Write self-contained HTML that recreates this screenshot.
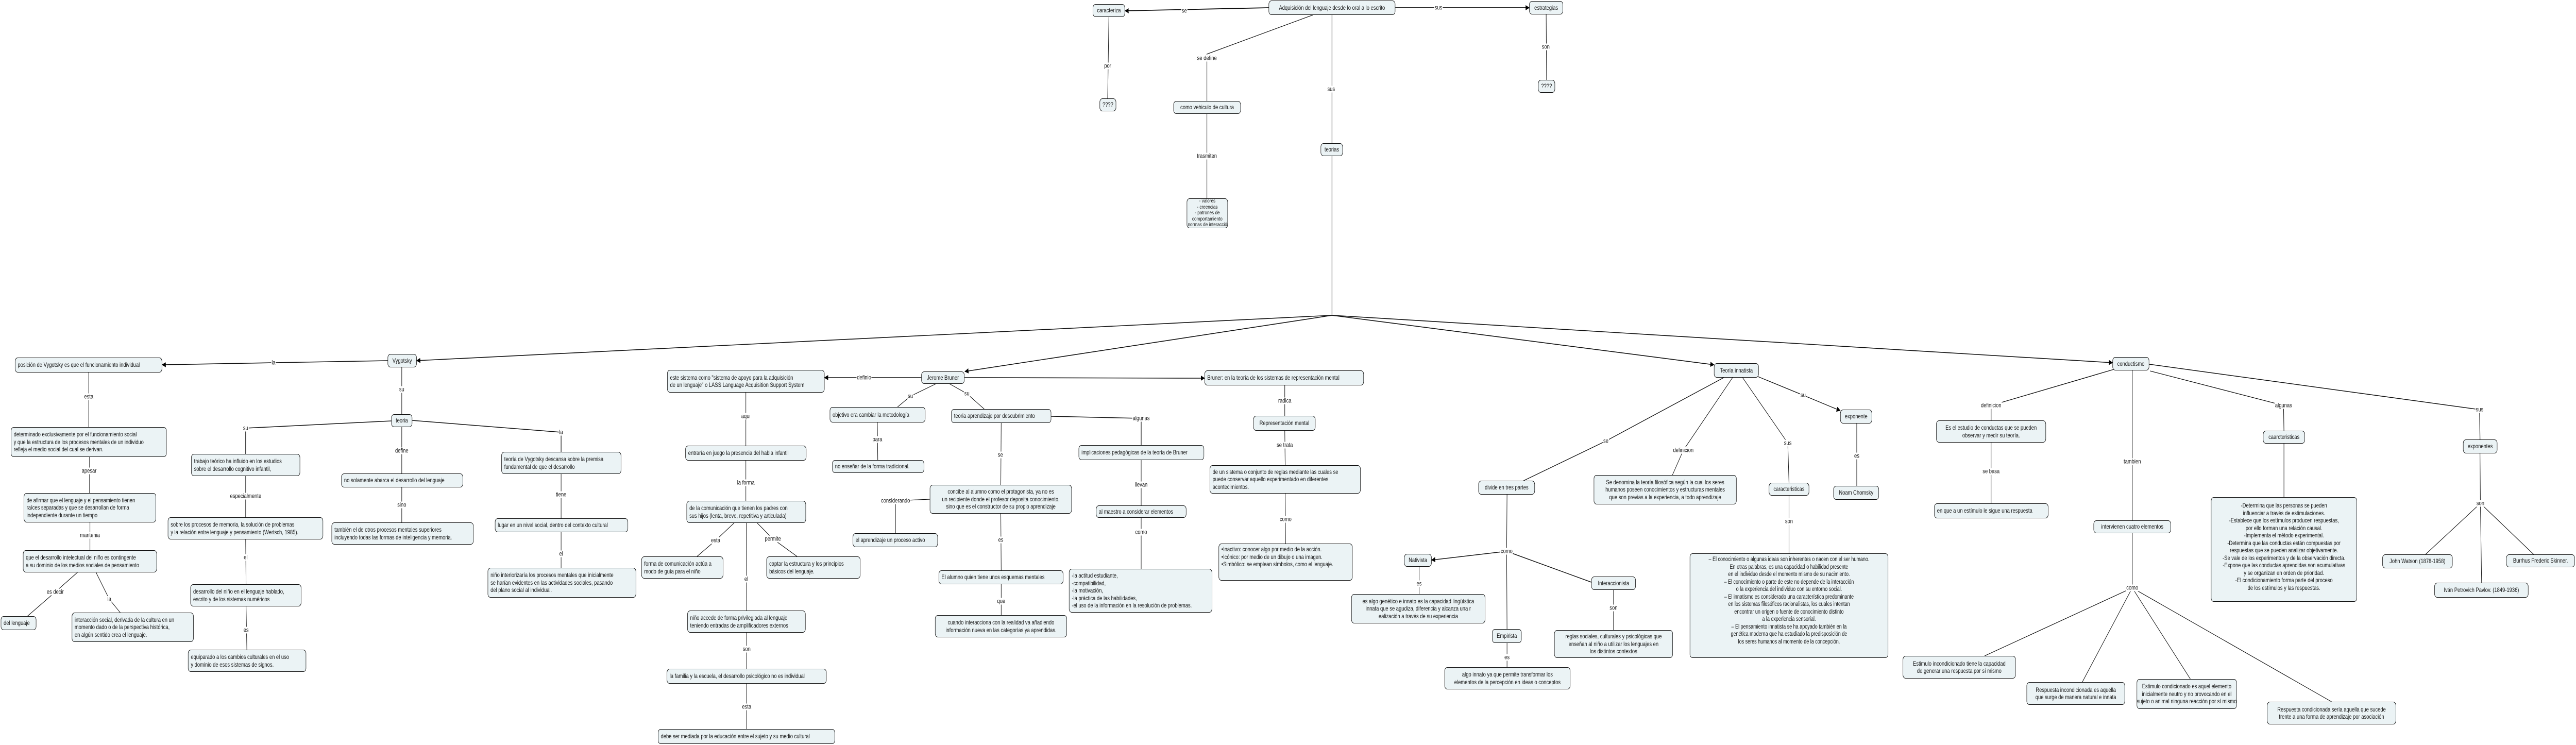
<!DOCTYPE html>
<html><head><meta charset="utf-8">
<style>
html,body{margin:0;padding:0;overflow:hidden;background:#fff}
#w{position:absolute;left:0;top:0;width:6386px;height:1446px;transform-origin:0 0;overflow:hidden;background:#fff}
svg{position:absolute;left:0;top:0}
.n{position:absolute;box-sizing:border-box;border:1.3px solid #111;border-radius:7px;background:#ebf3f5;font:12px/14.5px "Liberation Sans",sans-serif;display:flex;align-items:center;padding:0 6px;white-space:nowrap;overflow:hidden;color:#111}
.c{justify-content:center;text-align:center}
.l{position:absolute;transform:translate(-50%,-50%);background:#fff;font:12px/13px "Liberation Sans",sans-serif;padding:0 1px;white-space:nowrap;color:#111}
</style></head><body>
<div id="w">
<svg width="6386" height="1446" viewBox="0 0 6386 1446">
<defs><marker id="a" markerWidth="10" markerHeight="10" refX="9" refY="5" orient="auto" markerUnits="userSpaceOnUse"><path d="M0,0 L10,5 L0,10 z" fill="#000"/></marker></defs>
<g fill="none" stroke="#111" stroke-width="1.2">
<polyline points="3145,15 2789,21" stroke-width="1.8" marker-end="url(#a)"/>
<polyline points="3459,15 3791,15" stroke-width="1.8" marker-end="url(#a)"/>
<polyline points="2749,33 2746,191"/>
<polyline points="3833,28 3834,155"/>
<polyline points="3255,29 2992,105 2992,196"/>
<polyline points="3302,29 3302,278"/>
<polyline points="2992,221 2992,385"/>
<polyline points="3302,303 3302,612"/>
<polyline points="3302,612 1033,700" stroke-width="1.6" marker-end="url(#a)"/>
<polyline points="3302,612 2392,721" stroke-width="1.6" marker-end="url(#a)"/>
<polyline points="3302,612 4249,708" stroke-width="1.6" marker-end="url(#a)"/>
<polyline points="3302,612 5237,704" stroke-width="1.6" marker-end="url(#a)"/>
<polyline points="961,700 402,708" stroke-width="1.6" marker-end="url(#a)"/>
<polyline points="220,723 220,829"/>
<polyline points="222,887 222,957"/>
<polyline points="223,1014 223,1068"/>
<polyline points="192,1111 137,1149 68,1196"/>
<polyline points="238,1111 271,1163 298,1189"/>
<polyline points="996,713 996,804"/>
<polyline points="970,817 609,831 609,881" stroke-width="1.5"/>
<polyline points="609,924 609,1004"/>
<polyline points="609,1047 610,1134"/>
<polyline points="610,1177 612,1261"/>
<polyline points="996,829 996,919"/>
<polyline points="996,946 996,1014"/>
<polyline points="1022,816 1391,839 1391,877" stroke-width="1.5"/>
<polyline points="1391,920 1391,1006"/>
<polyline points="1391,1033 1391,1102"/>
<polyline points="2284,733 2044,733" stroke-width="1.6" marker-end="url(#a)"/>
<polyline points="2320,745 2257,769 2225,790"/>
<polyline points="2354,745 2397,764 2440,794"/>
<polyline points="2391,733 2986,734" stroke-width="1.6" marker-end="url(#a)"/>
<polyline points="1849,762 1849,865"/>
<polyline points="1849,894 1849,972"/>
<polyline points="1820,1015 1774,1049 1728,1080"/>
<polyline points="1877,1015 1916,1046 1976,1080"/>
<polyline points="1850,1015 1851,1185"/>
<polyline points="1851,1228 1851,1298"/>
<polyline points="1851,1327 1851,1415"/>
<polyline points="2175,820 2176,893"/>
<polyline points="2482,821 2481,941"/>
<polyline points="2606,808 2829,812 2829,864" stroke-width="1.5"/>
<polyline points="2829,893 2829,981"/>
<polyline points="2829,1005 2829,1104"/>
<polyline points="2305,969 2220,972 2220,1035"/>
<polyline points="2481,997 2482,1107"/>
<polyline points="2482,1134 2482,1194"/>
<polyline points="3185,748 3185,807"/>
<polyline points="3185,836 3186,903"/>
<polyline points="3186,958 3187,1055"/>
<polyline points="4273,733 3981,856 3777,933" stroke-width="1.4"/>
<polyline points="4295,733 4173,874 4146,922"/>
<polyline points="4320,733 4432,860 4435,937"/>
<polyline points="4355,730 4470,767 4562,797" stroke-width="1.4" marker-end="url(#a)"/>
<polyline points="4603,822 4603,943"/>
<polyline points="4435,962 4435,1074"/>
<polyline points="3736,960 3735,1070 3736,1221"/>
<polyline points="3735,1070 3549,1087" stroke-width="1.5" marker-end="url(#a)"/>
<polyline points="3735,1070 3945,1130" stroke-width="1.5"/>
<polyline points="3518,1100 3518,1153"/>
<polyline points="3736,1248 3736,1295"/>
<polyline points="4000,1145 4000,1223"/>
<polyline points="5240,717 4936,787 4936,816" stroke-width="1.4"/>
<polyline points="4936,859 4936,977"/>
<polyline points="5286,719 5286,1010"/>
<polyline points="5330,720 5661,787 5662,836" stroke-width="1.3"/>
<polyline points="5328,707 6147,795 6148,853" stroke-width="1.5"/>
<polyline points="5662,861 5662,965"/>
<polyline points="6148,880 6149,977 6013,1076"/>
<polyline points="6149,977 6152,1131"/>
<polyline points="6149,977 6281,1076"/>
<polyline points="5286,1035 5286,1141 4920,1273"/>
<polyline points="5286,1141 5162,1324"/>
<polyline points="5286,1141 5430,1318"/>
<polyline points="5286,1141 5780,1362"/>
</g>
</svg>

<div class="n c" style="left:3145px;top:1px;width:314px;height:28px">Adquisición del lenguaje desde lo oral a lo escrito</div>
<div class="n c" style="left:2709px;top:8px;width:80px;height:25px">caracteriza</div>
<div class="n c" style="left:2726px;top:191px;width:41px;height:25px">????</div>
<div class="n c" style="left:2909px;top:196px;width:167px;height:25px">como vehiculo de cultura</div>
<div class="n c" style="left:3274px;top:278px;width:55px;height:25px">teorias</div>
<div class="n c" style="left:3791px;top:2px;width:84px;height:26px">estrategias</div>
<div class="n c" style="left:3813px;top:155px;width:42px;height:25px">????</div>
<div class="n c" style="left:2942px;top:385px;width:102px;height:58px;font-size:10.5px;line-height:11.5px">- valores<br>- creencias<br>- patrones de<br>comportamiento<br>- normas de interacción</div>

<div class="n c" style="left:961px;top:687px;width:72px;height:26px">Vygotsky</div>
<div class="n" style="left:37px;top:694px;width:365px;height:29px">posición de Vygotsky es que el funcionamiento individual</div>
<div class="n" style="left:27px;top:829px;width:386px;height:58px">determinado exclusivamente por el funcionamiento social<br>y que la estructura de los procesos mentales de un individuo<br>refleja el medio social del cual se derivan.</div>
<div class="n" style="left:59px;top:957px;width:328px;height:57px">de afirmar que el lenguaje y el pensamiento tienen<br>raíces separadas y que se desarrollan de forma<br>independiente durante un tiempo</div>
<div class="n" style="left:57px;top:1068px;width:332px;height:43px">que el desarrollo intelectual del niño es contingente<br>a su dominio de los medios sociales de pensamiento</div>
<div class="n" style="left:2px;top:1196px;width:88px;height:27px">del lenguaje</div>
<div class="n" style="left:178px;top:1189px;width:302px;height:57px">interacción social, derivada de la cultura en un<br>momento dado o de la perspectiva histórica,<br>en algún sentido crea el lenguaje.</div>
<div class="n c" style="left:970px;top:804px;width:52px;height:25px">teoria</div>
<div class="n" style="left:474px;top:881px;width:270px;height:43px">trabajo teórico ha influido en los estudios<br>sobre el desarrollo cognitivo infantil,</div>
<div class="n" style="left:416px;top:1004px;width:385px;height:43px">sobre los procesos de memoria, la solución de problemas<br>y la relación entre lenguaje y pensamiento (Wertsch, 1985).</div>
<div class="n" style="left:472px;top:1134px;width:275px;height:43px">desarrollo del niño en el lenguaje hablado,<br>escrito y de los sistemas numéricos</div>
<div class="n" style="left:466px;top:1261px;width:293px;height:43px">equiparado a los cambios culturales en el uso<br>y dominio de esos sistemas de signos.</div>
<div class="n" style="left:846px;top:919px;width:302px;height:27px">no solamente abarca el desarrollo del lenguaje</div>
<div class="n" style="left:822px;top:1014px;width:352px;height:43px">también el de otros procesos mentales superiores<br>incluyendo todas las formas de inteligencia y memoria.</div>
<div class="n" style="left:1243px;top:877px;width:297px;height:43px">teoría de Vygotsky descansa sobre la premisa<br>fundamental de que el desarrollo</div>
<div class="n" style="left:1227px;top:1006px;width:330px;height:27px">lugar en un nivel social, dentro del contexto cultural</div>
<div class="n" style="left:1209px;top:1102px;width:368px;height:58px">niño interiorizaría los procesos mentales que inicialmente<br>se harían evidentes en las actividades sociales, pasando<br>del plano social al individual.</div>

<div class="n c" style="left:2284px;top:721px;width:107px;height:24px">Jerome Bruner</div>
<div class="n" style="left:1654px;top:718px;width:390px;height:44px">este sistema como "sistema de apoyo para la adquisición<br>de un lenguaje" o LASS Language Acquisition Support System</div>
<div class="n" style="left:1699px;top:865px;width:300px;height:29px">entraría en juego la presencia del habla infantil</div>
<div class="n" style="left:1702px;top:972px;width:296px;height:43px">de la comunicación que tienen los padres con<br>sus hijos (lenta, breve, repetitiva y articulada)</div>
<div class="n" style="left:1590px;top:1080px;width:203px;height:43px">forma de comunicación actúa a<br>modo de guía para el niño</div>
<div class="n" style="left:1900px;top:1080px;width:233px;height:43px">captar la estructura y los principios<br>básicos del lenguaje.</div>
<div class="n" style="left:1704px;top:1185px;width:293px;height:43px">niño accede de forma privilegiada al lenguaje<br>teniendo entradas de amplificadores externos</div>
<div class="n" style="left:1653px;top:1298px;width:396px;height:29px">la familia y la escuela, el desarrollo psicológico no es individual</div>
<div class="n" style="left:1631px;top:1415px;width:439px;height:29px">debe ser mediada por la educación entre el sujeto y su medio cultural</div>
<div class="n" style="left:2057px;top:790px;width:237px;height:30px">objetivo era cambiar la metodología</div>
<div class="n" style="left:2063px;top:893px;width:228px;height:25px">no enseñar de la forma tradicional.</div>
<div class="n" style="left:2358px;top:794px;width:248px;height:27px">teoria aprendizaje por descubrimiento</div>
<div class="n c" style="left:2305px;top:941px;width:352px;height:56px">concibe al alumno como el protagonista, ya no es<br>un recipiente donde el profesor deposita conocimiento,<br>sino que es el constructor de su propio aprendizaje</div>
<div class="n" style="left:2114px;top:1035px;width:211px;height:27px">el aprendizaje un proceso activo</div>
<div class="n" style="left:2327px;top:1107px;width:309px;height:27px">El alumno quien tiene unos esquemas mentales</div>
<div class="n c" style="left:2318px;top:1194px;width:327px;height:43px">cuando interacciona con la realidad va añadiendo<br>información nueva en las categorías ya aprendidas.</div>
<div class="n" style="left:2674px;top:864px;width:311px;height:29px">implicaciones pedagógicas de la teoría de Bruner</div>
<div class="n" style="left:2717px;top:981px;width:224px;height:24px">al maestro a considerar elementos</div>
<div class="n" style="left:2650px;top:1104px;width:355px;height:85px">-la actitud estudiante,<br>-compatibilidad,<br>-la motivación,<br>-la práctica de las habilidades,<br>-el uso de la información en la resolución de problemas.</div>
<div class="n" style="left:2986px;top:719px;width:395px;height:29px">Bruner: en la teoría de los sistemas de representación mental</div>
<div class="n c" style="left:3107px;top:807px;width:154px;height:29px">Representación mental</div>
<div class="n" style="left:2999px;top:903px;width:374px;height:55px">de un sistema o conjunto de reglas mediante las cuales se<br>puede conservar aquello experimentado en diferentes<br>acontecimientos.</div>
<div class="n" style="left:3021px;top:1055px;width:332px;height:72px;align-items:flex-start;padding-top:3px">•Inactivo: conocer algo por medio de la acción.<br>•Icónico: por medio de un dibujo o una imagen.<br>•Simbólico: se emplean símbolos, como el lenguaje.</div>

<div class="n c" style="left:3665px;top:933px;width:140px;height:27px">divide en tres partes</div>
<div class="n c" style="left:3481px;top:1075px;width:68px;height:25px">Nativista</div>
<div class="n c" style="left:3350px;top:1153px;width:332px;height:57px">es algo genético e innato es la capacidad lingüística<br>innata que se agudiza, diferencia y alcanza una r<br>ealización a través de su experiencia</div>
<div class="n c" style="left:3699px;top:1221px;width:73px;height:27px">Empirista</div>
<div class="n c" style="left:3581px;top:1295px;width:312px;height:43px">algo innato ya que permite transformar los<br>elementos de la percepción en ideas o conceptos</div>
<div class="n c" style="left:3945px;top:1119px;width:110px;height:26px">Interaccionista</div>
<div class="n c" style="left:3853px;top:1223px;width:294px;height:54px">reglas sociales, culturales y psicológicas que<br>enseñan al niño a utilizar los lenguajes en<br>los distintos contextos</div>
<div class="n c" style="left:4249px;top:705px;width:111px;height:28px">Teoría innatista</div>
<div class="n c" style="left:3951px;top:922px;width:354px;height:57px">Se denomina la teoría filosófica según la cual los seres<br>humanos poseen conocimientos y estructuras mentales<br>que son previas a la experiencia, a todo aprendizaje</div>
<div class="n c" style="left:4385px;top:937px;width:100px;height:25px">caracteristicas</div>
<div class="n c" style="left:4562px;top:795px;width:79px;height:27px">exponente</div>
<div class="n c" style="left:4545px;top:943px;width:113px;height:27px">Noam Chomsky</div>
<div class="n c" style="left:4189px;top:1074px;width:492px;height:203px;font-size:11.5px;line-height:14.5px;align-items:flex-start;padding-top:4px">– El conocimiento o algunas ideas son inherentes o nacen con el ser humano.<br>En otras palabras, es una capacidad o habilidad presente<br>en el individuo desde el momento mismo de su nacimiento.<br>– El conocimiento o parte de este no depende de la interacción<br>o la experiencia del individuo con su entorno social.<br>– El innatismo es considerado una característica predominante<br>en los sistemas filosóficos racionalistas, los cuales intentan<br>encontrar un origen o fuente de conocimiento distinto<br>a la experiencia sensorial.<br>– El pensamiento innatista se ha apoyado también en la<br>genética moderna que ha estudiado la predisposición de<br>los seres humanos al momento de la concepción.</div>

<div class="n c" style="left:5237px;top:693px;width:91px;height:26px">conductismo</div>
<div class="n c" style="left:4800px;top:816px;width:272px;height:43px">Es el estudio de conductas que se pueden<br>observar y medir su teoría.</div>
<div class="n" style="left:4795px;top:977px;width:283px;height:29px">en que a un estímulo le sigue una respuesta</div>
<div class="n c" style="left:5190px;top:1010px;width:192px;height:25px">intervienen cuatro elementos</div>
<div class="n c" style="left:5610px;top:836px;width:104px;height:25px">caarcteristicas</div>
<div class="n c" style="left:5481px;top:965px;width:362px;height:203px;align-items:flex-start;padding-top:8px">-Determina que las personas se pueden<br>influenciar a través de estimulaciones.<br>-Establece que los estímulos producen respuestas,<br>por ello forman una relación causal.<br>-Implementa el método experimental.<br>-Determina que las conductas están compuestas por<br>respuestas que se pueden analizar objetivamente.<br>-Se vale de los experimentos y de la observación directa.<br>-Expone que las conductas aprendidas son acumulativas<br>y se organizan en orden de prioridad.<br>-El condicionamiento forma parte del proceso<br>de los estímulos y las respuestas.</div>
<div class="n c" style="left:6106px;top:853px;width:85px;height:27px">exponentes</div>
<div class="n c" style="left:5906px;top:1076px;width:174px;height:27px">John Watson (1878-1958)</div>
<div class="n c" style="left:6213px;top:1076px;width:170px;height:25px">Burrhus Frederic Skinner.</div>
<div class="n c" style="left:6035px;top:1131px;width:233px;height:29px">Iván Petrovich Pavlov. (1849-1936)</div>
<div class="n c" style="left:4717px;top:1273px;width:280px;height:44px">Estimulo incondicionado tiene la capacidad<br>de generar una respuesta por sí mismo</div>
<div class="n c" style="left:5024px;top:1324px;width:244px;height:44px">Respuesta incondicionada es aquella<br>que surge de manera natural e innata</div>
<div class="n c" style="left:5297px;top:1318px;width:248px;height:58px">Estimulo condicionado es aquel elemento<br>inicialmente neutro y no provocando en el<br>sujeto o animal ninguna reacción por sí mismo</div>
<div class="n c" style="left:5620px;top:1362px;width:320px;height:44px">Respuesta condicionada sería aquella que sucede<br>frente a una forma de aprendizaje por asociación</div>

<span class="l" style="left:2936px;top:21px">se</span>
<span class="l" style="left:3566px;top:15px">sus</span>
<span class="l" style="left:2992px;top:113px">se define</span>
<span class="l" style="left:2746px;top:128px">por</span>
<span class="l" style="left:3300px;top:173px">sus</span>
<span class="l" style="left:3832px;top:91px">son</span>
<span class="l" style="left:2992px;top:303px">trasmiten</span>
<span class="l" style="left:678px;top:704px">la</span>
<span class="l" style="left:220px;top:770px">esta</span>
<span class="l" style="left:221px;top:914px">apesar</span>
<span class="l" style="left:223px;top:1039px">mantenia</span>
<span class="l" style="left:137px;top:1149px">es decir</span>
<span class="l" style="left:271px;top:1163px">la</span>
<span class="l" style="left:996px;top:756px">su</span>
<span class="l" style="left:609px;top:831px">su</span>
<span class="l" style="left:609px;top:963px">especialmente</span>
<span class="l" style="left:609px;top:1082px">el</span>
<span class="l" style="left:610px;top:1223px">es</span>
<span class="l" style="left:996px;top:875px">define</span>
<span class="l" style="left:996px;top:980px">sino</span>
<span class="l" style="left:1391px;top:839px">la</span>
<span class="l" style="left:1391px;top:960px">tiene</span>
<span class="l" style="left:1391px;top:1075px">el</span>
<span class="l" style="left:2142px;top:733px">definio</span>
<span class="l" style="left:2257px;top:769px">su</span>
<span class="l" style="left:2397px;top:764px">su</span>
<span class="l" style="left:1849px;top:808px">aqui</span>
<span class="l" style="left:1849px;top:937px">la forma</span>
<span class="l" style="left:1774px;top:1049px">esta</span>
<span class="l" style="left:1916px;top:1046px">permite</span>
<span class="l" style="left:1850px;top:1124px">el</span>
<span class="l" style="left:1851px;top:1260px">son</span>
<span class="l" style="left:1851px;top:1372px">esta</span>
<span class="l" style="left:2175px;top:853px">para</span>
<span class="l" style="left:2480px;top:883px">se</span>
<span class="l" style="left:2829px;top:812px">algunas</span>
<span class="l" style="left:2829px;top:941px">llevan</span>
<span class="l" style="left:2829px;top:1033px">como</span>
<span class="l" style="left:2220px;top:972px">considerando</span>
<span class="l" style="left:2481px;top:1048px">es</span>
<span class="l" style="left:2482px;top:1167px">que</span>
<span class="l" style="left:3185px;top:778px">radica</span>
<span class="l" style="left:3185px;top:864px">se trata</span>
<span class="l" style="left:3187px;top:1008px">como</span>
<span class="l" style="left:3981px;top:856px">se</span>
<span class="l" style="left:4173px;top:874px">definicion</span>
<span class="l" style="left:4432px;top:860px">sus</span>
<span class="l" style="left:4470px;top:767px">su</span>
<span class="l" style="left:4603px;top:885px">es</span>
<span class="l" style="left:4435px;top:1012px">son</span>
<span class="l" style="left:3735px;top:1070px">como</span>
<span class="l" style="left:3518px;top:1133px">es</span>
<span class="l" style="left:3736px;top:1276px">es</span>
<span class="l" style="left:4000px;top:1180px">son</span>
<span class="l" style="left:4936px;top:787px">definicion</span>
<span class="l" style="left:4936px;top:915px">se basa</span>
<span class="l" style="left:5286px;top:896px">tambien</span>
<span class="l" style="left:5661px;top:787px">algunas</span>
<span class="l" style="left:6147px;top:795px">sus</span>
<span class="l" style="left:6149px;top:977px">son</span>
<span class="l" style="left:5286px;top:1141px">como</span>
</div>
<script>
(function(){var w=document.getElementById('w');var sx=window.innerWidth/6386,sy=window.innerHeight/1446;if(sx>0&&sy>0&&(Math.abs(sx-1)>0.01||Math.abs(sy-1)>0.01)){w.style.transform='scale('+sx+','+sy+')';}})();
</script>
</body></html>
